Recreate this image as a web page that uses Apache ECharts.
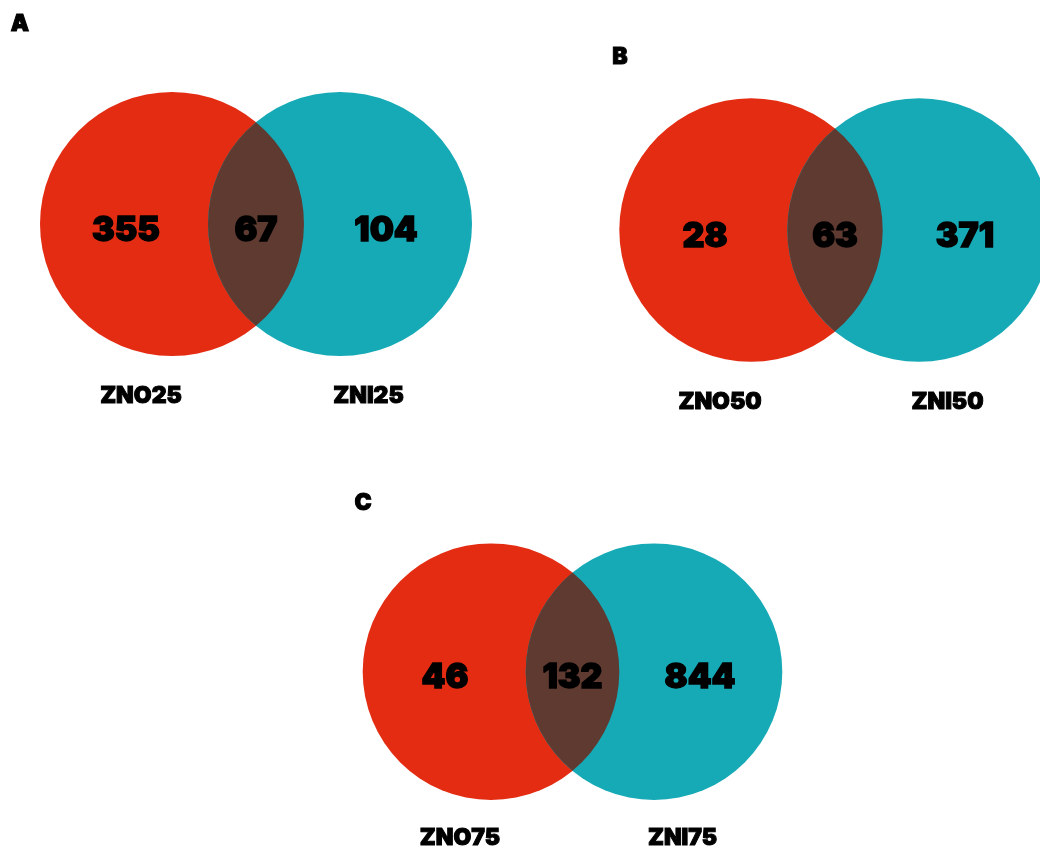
<!DOCTYPE html>
<html>
<head>
<meta charset="utf-8">
<title>ZNO vs ZNI overlap</title>
<script src="https://cdn.jsdelivr.net/npm/echarts@6/dist/echarts.min.js"></script>
<style>
  html, body { margin: 0; padding: 0; background: #ffffff; }
  #chart { width: 1040px; height: 848px; }
</style>
</head>
<body>
<div id="chart"></div>
<script>
// Panel titles and set names
const panelTitles = ['A', 'B', 'C'];
const leftSets = ['ZNO25', 'ZNO50', 'ZNO75'];
const rightSets = ['ZNI25', 'ZNI50', 'ZNI75'];

// Counts for each region of the two-set diagrams
const leftOnly = [355, 28, 46];
const sharedCounts = [67, 63, 132];
const rightOnly = [104, 371, 844];

// Placement of each diagram on the page (in plot units = pixels)
const layout = [
  { mx: 256,   cy: 224,   r: 132,   half: 84,   title: [20, 24]  },
  { mx: 835,   cy: 230,   r: 131.7, half: 84,   title: [620, 57] },
  { mx: 572.5, cy: 671.7, r: 128.3, half: 81.5, title: [363, 503] }
];

const RED = '#e32c12';
const TEAL = '#16a9b6';
const LENS = '#5e3a31';
const HEAVY = 'Inter, "DejaVu Sans", sans-serif';

// Heavy black text; a thin outline of the same colour thickens the strokes
function heavyText(x, y, text, size, stroke) {
  return {
    type: 'text', x: x, y: y,
    style: {
      text: text, fill: '#000', fontSize: size, fontWeight: 900,
      fontFamily: HEAVY, align: 'center', verticalAlign: 'middle',
      stroke: '#000', lineWidth: stroke
    }
  };
}

function renderVenn(params, api) {
  const i = api.value(0);
  const L = layout[i];
  const c = api.coord([L.mx, L.cy]);
  const r = api.size([L.r, 0])[0];
  const d = api.size([L.half, 0])[0];
  const h = Math.sqrt(r * r - d * d);
  const lx = c[0] - d, rx = c[0] + d;
  const lens = 'M' + c[0] + ' ' + (c[1] - h) +
    ' A' + r + ' ' + r + ' 0 0 1 ' + c[0] + ' ' + (c[1] + h) +
    ' A' + r + ' ' + r + ' 0 0 1 ' + c[0] + ' ' + (c[1] - h) + ' Z';
  const t = api.coord(L.title);
  const numY = c[1] + 6.5;
  const nameY = c[1] + (i === 2 ? 166.5 : 172);
  return {
    type: 'group',
    children: [
      { type: 'circle', shape: { cx: lx, cy: c[1], r: r }, style: { fill: RED } },
      { type: 'circle', shape: { cx: rx, cy: c[1], r: r }, style: { fill: TEAL } },
      { type: 'path', shape: { pathData: lens }, style: { fill: LENS } },
      heavyText(lx - 46, numY, String(api.value(1)), 34, 1.4),
      heavyText(c[0], numY, String(api.value(2)), 34, 1.4),
      heavyText(rx + 46, numY, String(api.value(3)), 34, 1.4),
      heavyText(lx - 31, nameY, leftSets[i], 23, 1),
      heavyText(rx + 28.5, nameY, rightSets[i], 23, 1),
      heavyText(t[0], t[1], panelTitles[i], 23, 1)
    ]
  };
}

const chart = echarts.init(document.getElementById('chart'), null, { renderer: 'canvas' });
chart.setOption({
  backgroundColor: '#ffffff',
  animation: false,
  grid: { left: 0, right: 0, top: 0, bottom: 0 },
  xAxis: { type: 'value', min: 0, max: 1040, show: false },
  yAxis: { type: 'value', min: 0, max: 848, inverse: true, show: false },
  series: [{
    type: 'custom',
    clip: false,
    renderItem: renderVenn,
    encode: { x: 0, y: 0 },
    data: panelTitles.map((_, i) => [i, leftOnly[i], sharedCounts[i], rightOnly[i]])
  }]
});
</script>
</body>
</html>
